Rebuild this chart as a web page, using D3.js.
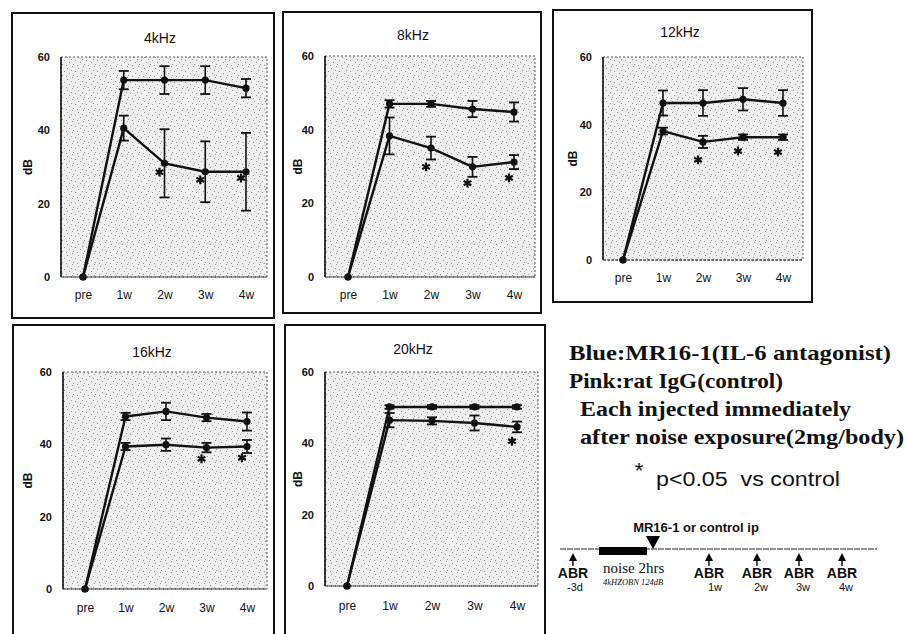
<!DOCTYPE html>
<html><head><meta charset="utf-8">
<script src="https://cdn.jsdelivr.net/npm/d3@7"></script>
<style>body{margin:0;background:#fff;}svg{display:block;}</style>
</head><body>
<script>
// ---------- DATA ----------
const categories = ["pre","1w","2w","3w","4w"];
const panelTitles = ["4kHz","8kHz","12kHz","16kHz","20kHz"];
const yTickValues = [0,20,40,60];
// Pink: rat IgG (control) – mean threshold shift (dB) and error
const controlMean = [
  [0,53.7,53.7,53.7,51.5],
  [0,47.0,47.0,45.6,44.8],
  [0,46.4,46.4,47.5,46.4],
  [0,47.7,49.1,47.4,46.3],
  [0,50.2,50.2,50.2,50.2]
];
const controlErr = [
  [0,2.5,3.8,3.8,2.5],
  [0,1.0,0.8,2.2,2.6],
  [0,3.7,3.8,3.3,3.8],
  [0,1.0,2.4,1.0,2.5],
  [0,0.5,0.5,0.5,0.5]
];
// Blue: MR16-1 (IL-6 antagonist)
const mr16Mean = [
  [0,40.6,31.0,28.7,28.7],
  [0,38.3,35.0,29.9,31.2],
  [0,38.1,34.9,36.3,36.3],
  [0,39.4,39.9,39.1,39.4],
  [0,46.5,46.3,45.7,44.6]
];
const mr16Err = [
  [0,3.4,9.3,8.3,10.6],
  [0,5.0,3.1,2.7,1.9],
  [0,1.0,1.8,0.8,0.8],
  [0,1.0,1.7,1.3,1.8],
  [0,2.0,1.0,2.1,1.5]
];
// significance marks (*) : category and dB level where drawn
const sigCats = [["2w","3w","4w"],["2w","3w","4w"],["2w","3w","4w"],["3w","4w"],["4w"]];
const sigVals = [[28.6,26.5,27.0],[29.9,25.5,26.9],[29.6,32.2,31.9],[36.0,36.3],[40.6]];

// ---------- LAYOUT ----------
const layouts = [
  {frame:[12,13,274,318], plot:[61,57,267,277], pad:[22,21], title:[160,43], tickY:300, dbX:28},
  {frame:[283,12,541,313], plot:[325,56,535,277], pad:[23,21], title:[413,40], tickY:300, dbX:298},
  {frame:[553,10,812,302], plot:[603,57,803,260], pad:[20,20], title:[680,37], tickY:283, dbX:573},
  {frame:[13,325,274,664], plot:[63,372,267,589], pad:[22,20], title:[152,357], tickY:613, dbX:28},
  {frame:[285,325,545,664], plot:[325,372,538,586], pad:[22,21], title:[413,354], tickY:611, dbX:298}
];

const W = 907, H = 634;
const svg = d3.select("body").append("svg").attr("width", W).attr("height", H)
  .style("font-family", "'Liberation Sans', Arial, sans-serif");
svg.append("rect").attr("width", W).attr("height", H).attr("fill", "#fff");

// stipple pattern for plot backgrounds
const defs = svg.append("defs");
const pat = defs.append("pattern").attr("id","stipple").attr("patternUnits","userSpaceOnUse")
  .attr("width",11).attr("height",11);
pat.append("rect").attr("width",11).attr("height",11).attr("fill","#efefef");
[[1,2],[6,0],[9,5],[3,7],[7,9],[0,10],[5,4]].forEach(([x,y])=>{
  pat.append("rect").attr("x",x).attr("y",y).attr("width",1).attr("height",1).attr("fill","#9a9a9a");
});

panelTitles.forEach((title, i) => {
  const L = layouts[i];
  const g = svg.append("g");
  const [fx0, fy0, fx1, fy1] = L.frame;
  const [px0, py0, px1, py1] = L.plot;

  g.append("rect").attr("x", fx0).attr("y", fy0).attr("width", fx1 - fx0).attr("height", fy1 - fy0)
    .attr("fill", "none").attr("stroke", "#111").attr("stroke-width", 2);

  const x = d3.scalePoint().domain(categories).range([px0 + L.pad[0], px1 - L.pad[1]]);
  const y = d3.scaleLinear().domain([0, 60]).range([py1, py0]);

  // plot background
  g.append("rect").attr("x", px0).attr("y", py0).attr("width", px1 - px0).attr("height", py1 - py0)
    .attr("fill", "url(#stipple)").attr("stroke", "#555").attr("stroke-width", 1)
    .attr("stroke-dasharray", "2,2");
  // left axis solid line + bottom line
  g.append("line").attr("x1", px0).attr("x2", px0).attr("y1", py0).attr("y2", py1)
    .attr("stroke", "#111").attr("stroke-width", 1.6);
  g.append("line").attr("x1", px0).attr("x2", px1).attr("y1", py1).attr("y2", py1)
    .attr("stroke", "#333").attr("stroke-width", 1).attr("stroke-dasharray", "3,1");

  // title
  g.append("text").attr("x", L.title[0]).attr("y", L.title[1]).attr("text-anchor", "middle")
    .attr("font-size", 14).attr("fill", "#111").text(title);

  // y axis labels
  const yAxis = d3.axisLeft(y).tickValues(yTickValues).tickSize(0).tickPadding(11);
  const ya = g.append("g").attr("transform", `translate(${px0},0)`).call(yAxis);
  ya.select(".domain").remove();
  ya.selectAll("text").attr("font-size", 11).attr("font-weight", "bold").attr("fill", "#111")
    .attr("font-family", "'Liberation Sans', Arial, sans-serif");

  // x axis labels
  const xAxis = d3.axisBottom(x).tickSize(0).tickPadding(0);
  const xa = g.append("g").attr("transform", `translate(0,${L.tickY - 10})`).call(xAxis);
  xa.select(".domain").remove();
  xa.selectAll("text").attr("font-size", 12).attr("fill", "#111")
    .attr("font-family", "'Liberation Sans', Arial, sans-serif");

  // dB label
  g.append("text").attr("transform", `translate(${L.dbX},${(py0 + py1) / 2}) rotate(-90)`)
    .attr("text-anchor", "middle").attr("dy", "0.35em").attr("font-size", 12)
    .attr("font-weight", "bold").attr("fill", "#111").text("dB");

  const line = d3.line().x((d, j) => x(categories[j])).y(d => y(d));
  const series = [
    {mean: controlMean[i], err: controlErr[i]},
    {mean: mr16Mean[i], err: mr16Err[i]}
  ];
  series.forEach(s => {
    // error bars
    s.mean.forEach((m, j) => {
      const e = s.err[j];
      if (!e) return;
      const cx = x(categories[j]);
      g.append("line").attr("x1", cx).attr("x2", cx).attr("y1", y(m + e)).attr("y2", y(m - e))
        .attr("stroke", "#111").attr("stroke-width", 1.6);
      [m + e, m - e].forEach(v => {
        g.append("line").attr("x1", cx - 5).attr("x2", cx + 5).attr("y1", y(v)).attr("y2", y(v))
          .attr("stroke", "#111").attr("stroke-width", 1.8);
      });
    });
    g.append("path").attr("d", line(s.mean)).attr("fill", "none")
      .attr("stroke", "#111").attr("stroke-width", 2.4).attr("stroke-linejoin", "round");
    g.selectAll(null).data(s.mean).enter().append("circle")
      .attr("cx", (d, j) => x(categories[j])).attr("cy", d => y(d)).attr("r", 3.6).attr("fill", "#111");
  });

  // significance asterisks
  sigCats[i].forEach((c, k) => {
    g.append("path").attr("d", d3.symbol(d3.symbolAsterisk, 55)())
      .attr("transform", `translate(${x(c) - 5},${y(sigVals[i][k])})`)
      .attr("stroke", "#111").attr("stroke-width", 2.2).attr("fill", "none");
  });
});

// ---------- LEGEND / NOTES ----------
const serif = "'Liberation Serif', 'Times New Roman', serif";
const notes = [
  {t:"Blue:MR16-1(IL-6 antagonist)", x:569, y:360, w:322},
  {t:"Pink:rat IgG(control)", x:569, y:388, w:214},
  {t:"Each injected immediately", x:580, y:416, w:271},
  {t:"after noise exposure(2mg/body)", x:580, y:444, w:324}
];
notes.forEach(n => {
  svg.append("text").attr("x", n.x).attr("y", n.y).attr("font-family", serif)
    .attr("font-weight", "bold").attr("font-size", 21).attr("fill", "#111")
    .attr("textLength", n.w).attr("lengthAdjust", "spacingAndGlyphs").text(n.t);
});
svg.append("text").attr("x", 639).attr("y", 478).attr("text-anchor", "middle")
  .attr("font-size", 22).attr("fill", "#111").text("*");
svg.append("text").attr("x", 656).attr("y", 486).attr("font-size", 20).attr("fill", "#111")
  .attr("textLength", 184).attr("lengthAdjust", "spacingAndGlyphs").attr("xml:space","preserve")
  .text("p<0.05  vs control");

// timeline
const tlY = 549;
svg.append("text").attr("x", 696).attr("y", tlY - 17).attr("text-anchor", "middle")
  .attr("font-size", 13).attr("font-weight", "bold").attr("fill", "#111").text("MR16-1 or control ip");
svg.append("line").attr("x1", 560).attr("x2", 877).attr("y1", tlY).attr("y2", tlY)
  .attr("stroke", "#222").attr("stroke-width", 1.2).attr("stroke-dasharray", "6,1");
svg.append("rect").attr("x", 599).attr("y", tlY - 2).attr("width", 48).attr("height", 8).attr("fill", "#000");
svg.append("path").attr("d", `M646,${tlY - 13} L660,${tlY - 13} L653,${tlY} Z`).attr("fill", "#000");

const abrX = [573, 709, 757, 799, 842];
const abrSub = ["-3d","1w","2w","3w","4w"];
abrX.forEach((ax, k) => {
  svg.append("line").attr("x1", ax).attr("x2", ax).attr("y1", tlY + 7).attr("y2", tlY + 17)
    .attr("stroke", "#000").attr("stroke-width", 1.4);
  svg.append("path").attr("d", `M${ax - 4},${tlY + 12} L${ax + 4},${tlY + 12} L${ax},${tlY + 4} Z`).attr("fill", "#000");
  svg.append("text").attr("x", ax).attr("y", tlY + 29).attr("text-anchor", "middle")
    .attr("font-size", 14).attr("font-weight", "bold").attr("fill", "#111").text("ABR");
  svg.append("text").attr("x", k === 0 ? 567 : ax + (k === 1 ? 6 : 4)).attr("y", tlY + 42)
    .attr("text-anchor", k === 0 ? "start" : "middle").attr("font-size", 11).attr("fill", "#111").text(abrSub[k]);
});
svg.append("text").attr("x", 603).attr("y", tlY + 24).attr("font-family", serif).attr("font-size", 15)
  .attr("fill", "#111").text("noise 2hrs");
svg.append("text").attr("x", 603).attr("y", tlY + 36).attr("font-family", serif).attr("font-size", 8.5)
  .attr("font-style", "italic").attr("fill", "#111").text("4kHZOBN 124dB");
</script>
</body></html>
